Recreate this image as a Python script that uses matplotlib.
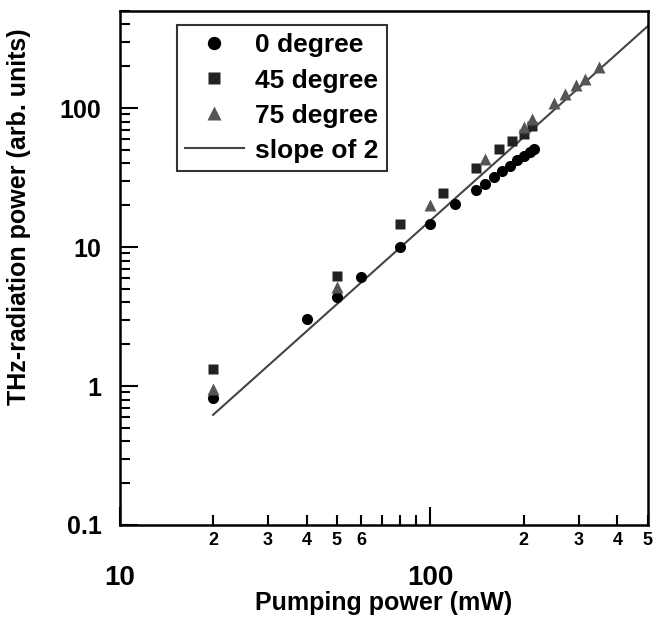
import matplotlib
matplotlib.use("Agg")
import matplotlib.pyplot as plt
from matplotlib.ticker import LogLocator, FixedLocator, FixedFormatter, NullFormatter
import numpy as np

plt.rcParams['font.family'] = ['Liberation Sans', 'DejaVu Sans']
plt.rcParams['font.weight'] = 'bold'

# data
x0 = [20, 40, 50, 60, 80, 100, 120, 140, 150, 160, 170, 180, 190, 200, 210, 215]
y0 = [0.82, 3.03, 4.37, 6.08, 10.0, 14.6, 20.3, 25.6, 28.6, 31.9, 35.3, 38.6, 42.1, 45.5, 48.6, 50.8]

x45 = [20, 50, 80, 110, 140, 167, 183, 200, 213]
y45 = [1.32, 6.18, 14.6, 24.7, 37.3, 51.1, 58.3, 65.5, 73.9]

x75 = [20, 50, 100, 150, 200, 213, 250, 272, 295, 315, 350]
y75 = [0.95, 5.18, 20.0, 43.0, 73.1, 83.9, 108.6, 125.4, 145.6, 162.6, 197.0]

fit_x = [20, 500]
fit_coef = 0.00155   # y = coef * x^2

labels = ['0 degree', '45 degree', '75 degree', 'slope of 2']
xlabel = 'Pumping power (mW)'
ylabel = 'THz-radiation power (arb. units)'

fig = plt.figure(figsize=(6.63, 6.19), dpi=100)
ax = fig.add_axes([119.5/663, 1-525/619, (647.5-119.5)/663, (525-11)/619])
ax.set_xscale('log')
ax.set_yscale('log')
ax.set_xlim(10, 500)
ax.set_ylim(0.1, 500)

fx = np.array(fit_x, dtype=float)
ax.plot(fx, fit_coef*fx**2, color='#444444', lw=1.5, label=labels[3], zorder=2)
ax.plot(x0, y0, 'o', color='black', ms=8, mec='none', label=labels[0], zorder=3)
ax.plot(x45, y45, 's', color='#222222', ms=7.5, mec='none', label=labels[1], zorder=3)
ax.plot(x75, y75, '^', color='#555555', ms=8.5, mec='none', label=labels[2], zorder=3)

for s in ['left', 'bottom', 'right', 'top']:
    ax.spines[s].set_linewidth(1.8)

# x ticks
ax.xaxis.set_major_locator(FixedLocator([10, 100]))
ax.xaxis.set_major_formatter(FixedFormatter(['10', '100']))
xminor = [20, 30, 40, 50, 60, 70, 80, 90, 200, 300, 400, 500]
xminor_lab = ['2', '3', '4', '5', '6', '', '', '', '2', '3', '4', '5']
ax.xaxis.set_minor_locator(FixedLocator(xminor))
ax.xaxis.set_minor_formatter(FixedFormatter(xminor_lab))
# y ticks
ax.yaxis.set_major_locator(FixedLocator([0.1, 1, 10, 100]))
ax.yaxis.set_major_formatter(FixedFormatter(['0.1', '1', '10', '100']))
ax.yaxis.set_minor_locator(LogLocator(base=10, subs=np.arange(2, 10), numticks=20))
ax.yaxis.set_minor_formatter(NullFormatter())

ax.tick_params(which='both', direction='in', top=False, right=False, width=1.5)
ax.tick_params(which='major', length=13)
ax.tick_params(which='minor', length=7)
ax.tick_params(axis='x', which='major', pad=29, labelsize=20)
ax.tick_params(axis='x', which='minor', pad=5, labelsize=13)
ax.tick_params(axis='y', which='major', pad=13, labelsize=18)

ax.set_xlabel(xlabel, fontsize=18, fontweight='bold', va='center')
ax.xaxis.set_label_coords(0.5, -0.152)
ax.set_ylabel(ylabel, fontsize=18, fontweight='bold')
ax.yaxis.set_label_coords(-0.168, 0.60)

h, l = ax.get_legend_handles_labels()
order = [1, 2, 3, 0]
leg = ax.legend([h[i] for i in order], [l[i] for i in order],
                loc='upper left', bbox_to_anchor=((177-119.5)/528, (525-25)/514),
                borderaxespad=0, fontsize=19, frameon=True, fancybox=False,
                edgecolor='black', handlelength=2.2, handletextpad=0.45,
                labelspacing=0.42, borderpad=0.32, numpoints=1, markerscale=1.2)
leg.get_frame().set_linewidth(1.5)
for t in leg.get_texts():
    t.set_fontweight('bold')

fig.savefig('out.png', dpi=100)
